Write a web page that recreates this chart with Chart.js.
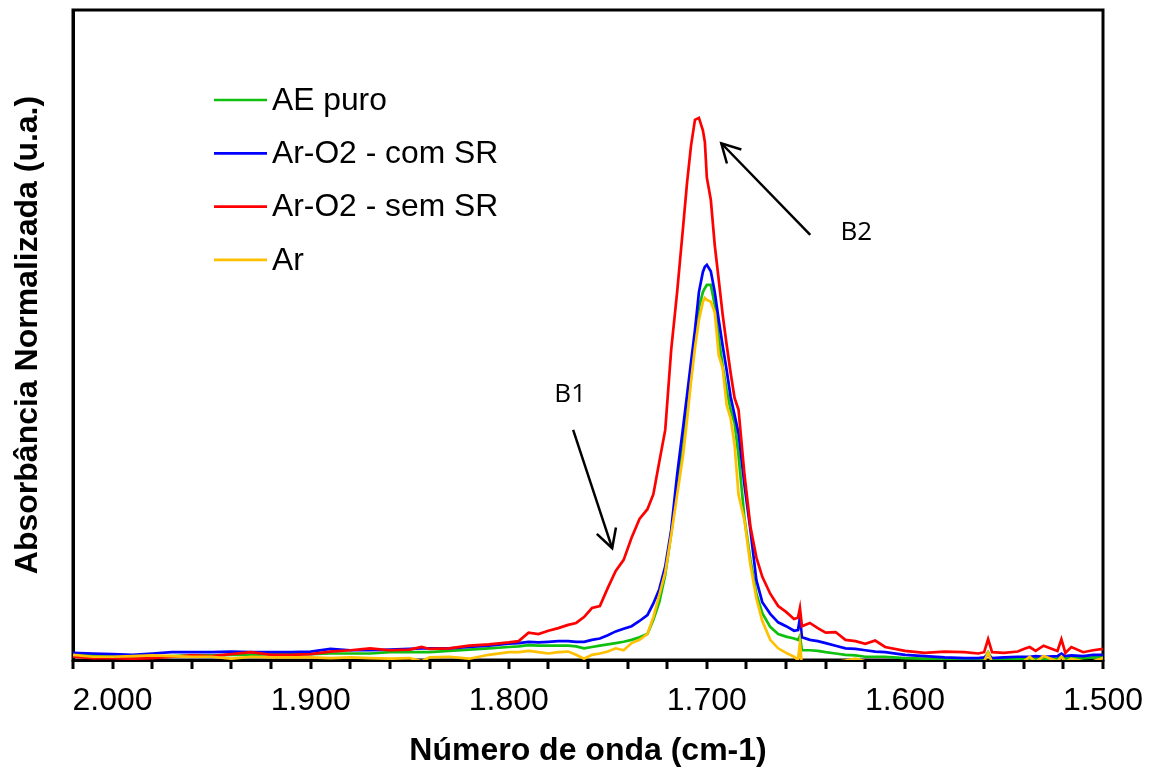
<!DOCTYPE html>
<html>
<head>
<meta charset="utf-8">
<title>Absorbância Normalizada</title>
<script src="https://cdn.jsdelivr.net/npm/chart.js@4.4.0/dist/chart.umd.min.js"></script>
<style>
  html, body { margin: 0; padding: 0; background: #ffffff; }
  #wrap { width: 1154px; height: 771px; }
  canvas { display: block; }
</style>
</head>
<body>
<div id="wrap"><canvas id="spectra" width="1154" height="771"></canvas></div>
<script>
// Número de onda (cm-1)
const wavenumbers = [
  2020, 2010, 2000, 1990, 1980, 1970, 1960, 1950, 1940, 1930,
  1920, 1910, 1900, 1890, 1880, 1870, 1860, 1850, 1844, 1840,
  1830, 1820, 1810, 1800, 1795, 1790, 1785, 1780, 1775, 1770,
  1766, 1762, 1758, 1754, 1750, 1746, 1742, 1738, 1734, 1730,
  1727, 1724, 1721, 1718, 1715, 1712, 1710, 1708, 1706, 1704,
  1702, 1701, 1700, 1698, 1696, 1694, 1692, 1690, 1688, 1686,
  1684, 1681, 1678, 1675, 1672, 1668, 1664, 1660, 1656, 1654,
  1653, 1652, 1648, 1644, 1640, 1635, 1630, 1625, 1620, 1615,
  1610, 1600, 1590, 1580, 1570, 1563, 1560, 1558, 1556, 1550,
  1543, 1540, 1537, 1534, 1530, 1523, 1521, 1519, 1516, 1510,
  1505, 1500
];

// AE puro
const aePuro = [
  0.009, 0.008, 0.007, 0.005, 0.005, 0.006, 0.007, 0.007, 0.008, 0.008,
  0.009, 0.009, 0.009, 0.010, 0.010, 0.010, 0.012, 0.012, 0.012, 0.012,
  0.014, 0.016, 0.018, 0.020, 0.021, 0.023, 0.022, 0.022, 0.022, 0.022,
  0.021, 0.018, 0.020, 0.022, 0.024, 0.026, 0.028, 0.031, 0.035, 0.040,
  0.062, 0.089, 0.131, 0.195, 0.266, 0.332, 0.386, 0.434, 0.492, 0.542,
  0.566, 0.572, 0.577, 0.577, 0.546, 0.495, 0.452, 0.415, 0.385, 0.365,
  0.315, 0.218, 0.154, 0.102, 0.072, 0.051, 0.040, 0.036, 0.033, 0.031,
  0.037, 0.015, 0.015, 0.014, 0.012, 0.010, 0.008, 0.007, 0.005, 0.005,
  0.005, 0.003, 0.002, 0.001, 0.001, 0.001, 0.002, 0.012, 0.001, 0.001,
  0.002, 0.002, 0.002, 0.002, 0.002, 0.002, 0.005, 0.002, 0.003, 0.003,
  0.004, 0.005
];

// Ar-O2 - com SR
const arO2ComSR = [
  0.011, 0.010, 0.009, 0.008, 0.010, 0.012, 0.012, 0.012, 0.013, 0.012,
  0.012, 0.012, 0.013, 0.017, 0.015, 0.015, 0.016, 0.017, 0.018, 0.018,
  0.018, 0.020, 0.022, 0.025, 0.026, 0.028, 0.027, 0.028, 0.029, 0.029,
  0.028, 0.028, 0.031, 0.033, 0.038, 0.044, 0.048, 0.052, 0.060, 0.069,
  0.087, 0.109, 0.144, 0.200, 0.285, 0.358, 0.408, 0.458, 0.508, 0.566,
  0.597, 0.605, 0.608, 0.598, 0.566, 0.523, 0.483, 0.446, 0.405, 0.377,
  0.349, 0.269, 0.200, 0.123, 0.089, 0.071, 0.058, 0.052, 0.045, 0.046,
  0.065, 0.035, 0.031, 0.029, 0.026, 0.022, 0.018, 0.017, 0.015, 0.013,
  0.012, 0.008, 0.006, 0.004, 0.003, 0.003, 0.004, 0.008, 0.003, 0.004,
  0.005, 0.005, 0.005, 0.006, 0.005, 0.006, 0.010, 0.006, 0.007, 0.006,
  0.008, 0.008
];

// Ar-O2 - sem SR
const arO2SemSR = [
  0.005, 0.003, 0.003, 0.002, 0.003, 0.005, 0.007, 0.006, 0.009, 0.012,
  0.008, 0.008, 0.009, 0.013, 0.015, 0.018, 0.015, 0.016, 0.020, 0.017,
  0.018, 0.022, 0.024, 0.027, 0.029, 0.042, 0.040, 0.045, 0.049, 0.054,
  0.057, 0.066, 0.080, 0.083, 0.111, 0.137, 0.154, 0.188, 0.217, 0.232,
  0.255, 0.305, 0.354, 0.477, 0.566, 0.666, 0.734, 0.791, 0.831, 0.834,
  0.815, 0.797, 0.742, 0.708, 0.638, 0.585, 0.531, 0.485, 0.442, 0.403,
  0.385, 0.285, 0.205, 0.158, 0.128, 0.102, 0.083, 0.074, 0.063, 0.065,
  0.080, 0.052, 0.057, 0.049, 0.042, 0.043, 0.031, 0.029, 0.025, 0.030,
  0.020, 0.014, 0.011, 0.013, 0.012, 0.010, 0.012, 0.032, 0.012, 0.011,
  0.013, 0.017, 0.020, 0.014, 0.022, 0.014, 0.032, 0.011, 0.020, 0.012,
  0.015, 0.017
];

// Ar
const ar = [
  0.008, 0.005, 0.005, 0.006, 0.007, 0.006, 0.005, 0.005, 0.002, 0.005,
  0.004, 0.004, 0.004, 0.003, 0.004, 0.003, 0.002, 0.003, -0.002, 0.004,
  0.005, 0.002, 0.008, 0.012, 0.012, 0.014, 0.012, 0.010, 0.012, 0.013,
  0.008, 0.002, 0.008, 0.010, 0.013, 0.018, 0.015, 0.026, 0.031, 0.040,
  0.066, 0.100, 0.135, 0.192, 0.254, 0.315, 0.369, 0.428, 0.480, 0.523,
  0.551, 0.557, 0.554, 0.551, 0.535, 0.469, 0.449, 0.392, 0.372, 0.331,
  0.254, 0.215, 0.146, 0.095, 0.060, 0.031, 0.018, 0.011, 0.005, 0.000,
  0.026, -0.008, -0.002, -0.003, -0.002, -0.003, -0.001, 0.002, -0.002, -0.003,
  -0.002, -0.003, -0.002, -0.003, -0.002, -0.003, -0.002, 0.011, -0.003, -0.002,
  -0.003, -0.002, 0.005, -0.003, 0.006, -0.002, 0.005, -0.003, 0.002, -0.002,
  -0.002, 0.003
];

const seriesNames = ['AE puro', 'Ar-O2 - com SR', 'Ar-O2 - sem SR', 'Ar'];
const seriesValues = [aePuro, arO2ComSR, arO2SemSR, ar];
const seriesColors = ['#10C010', '#0000FF', '#FF0000', '#FFC000'];

// labelled ticks of the wavenumber axis (minor ticks every 20 cm-1)
const labelledTicks = [2000, 1900, 1800, 1700, 1600, 1500];

// band callouts, in data coordinates
const bandCallouts = [
  { text: 'B1', label: [1769, 0.408], tail: [1767.5, 0.354], head: [1747.8, 0.172] },
  { text: 'B2', label: [1624.5, 0.657], tail: [1647.8, 0.654], head: [1692.7, 0.795] }
];

const FONT = '"Liberation Sans", Arial, Helvetica, sans-serif';

// closed frame around the plot area, with outward tick marks on the x axis
const plotFrame = {
  id: 'plotFrame',
  beforeDatasetsDraw(chart) {
    const { ctx, chartArea: a } = chart;
    const xs = chart.scales.x;
    ctx.save();
    ctx.strokeStyle = '#000';
    ctx.lineWidth = 3;
    ctx.strokeRect(a.left, a.top, a.right - a.left, a.bottom - a.top);
    xs.ticks.forEach(t => {
      const x = Math.round(xs.getPixelForValue(t.value));
      ctx.beginPath();
      ctx.moveTo(x, a.bottom);
      ctx.lineTo(x, a.bottom + 9);
      ctx.stroke();
    });
    ctx.restore();
  }
};

// legend drawn inside the plot area
const insideLegend = {
  id: 'insideLegend',
  afterDatasetsDraw(chart) {
    const { ctx, chartArea: a } = chart;
    const x0 = a.left + 141, x1 = x0 + 53, tx = x1 + 5;
    let y = a.top + 90;
    ctx.save();
    ctx.font = '31.8px ' + FONT;
    ctx.textBaseline = 'middle';
    ctx.textAlign = 'left';
    chart.data.datasets.forEach(ds => {
      ctx.strokeStyle = ds.borderColor;
      ctx.lineWidth = 2.7;
      ctx.beginPath();
      ctx.moveTo(x0, y);
      ctx.lineTo(x1, y);
      ctx.stroke();
      ctx.fillStyle = '#000';
      ctx.fillText(ds.label, tx, y + 1);
      y += 53.3;
    });
    ctx.restore();
  }
};

// arrows and labels marking the bands
const bandArrows = {
  id: 'bandArrows',
  afterDatasetsDraw(chart) {
    const { ctx } = chart;
    const xs = chart.scales.x, ys = chart.scales.y;
    const px = p => [xs.getPixelForValue(p[0]), ys.getPixelForValue(p[1])];
    ctx.save();
    ctx.strokeStyle = '#000';
    ctx.fillStyle = '#000';
    ctx.lineWidth = 2.5;
    ctx.lineCap = 'butt';
    bandCallouts.forEach(c => {
      const [tx, ty] = px(c.tail);
      const [hx, hy] = px(c.head);
      ctx.beginPath();
      ctx.moveTo(tx, ty);
      ctx.lineTo(hx, hy);
      ctx.stroke();
      const ang = Math.atan2(hy - ty, hx - tx);
      const len = 21, spread = 0.5;
      ctx.beginPath();
      ctx.moveTo(hx - len * Math.cos(ang - spread), hy - len * Math.sin(ang - spread));
      ctx.lineTo(hx, hy);
      ctx.lineTo(hx - len * Math.cos(ang + spread), hy - len * Math.sin(ang + spread));
      ctx.stroke();
      const [lx, ly] = px(c.label);
      ctx.font = '26px "Open Sans", "Liberation Sans", sans-serif';
      ctx.textAlign = 'center';
      ctx.textBaseline = 'middle';
      ctx.fillText(c.text, lx, ly);
    });
    ctx.restore();
  }
};

const datasets = seriesNames.map((name, i) => ({
  label: name,
  data: wavenumbers.map((w, j) => ({ x: w, y: seriesValues[i][j] })),
  borderColor: seriesColors[i],
  backgroundColor: seriesColors[i],
  borderWidth: 2.7,
  pointRadius: 0,
  tension: 0,
  fill: false,
  order: seriesNames.length - 1 - i
}));

new Chart(document.getElementById('spectra'), {
  type: 'line',
  data: { datasets },
  plugins: [plotFrame, insideLegend, bandArrows],
  options: {
    responsive: false,
    animation: false,
    devicePixelRatio: 1,
    layout: { padding: { left: 0, top: 10, right: 51, bottom: 0 } },
    plugins: { legend: { display: false }, tooltip: { enabled: false } },
    scales: {
      x: {
        type: 'linear',
        reverse: true,
        min: 1500,
        max: 2020,
        afterFit(scale) {
          scale.height = 111;
          scale.paddingLeft = 0;
          scale.paddingRight = 0;
        },
        border: { display: true, color: '#000', width: 3 },
        grid: { display: false, drawTicks: true, tickLength: 8 },
        ticks: {
          stepSize: 20,
          autoSkip: false,
          maxRotation: 0,
          padding: 14,
          color: '#000',
          font: { family: FONT, size: 32, lineHeight: 1.2 },
          callback: v => labelledTicks.includes(v) ? (v / 1000).toFixed(3) : ''
        },
        title: {
          display: true,
          text: 'Número de onda (cm-1)',
          color: '#000',
          padding: { top: 0, bottom: 1 },
          font: { family: FONT, size: 32, weight: 'bold', lineHeight: 1.2 }
        }
      },
      y: {
        type: 'linear',
        min: 0,
        max: 1,
        afterFit(scale) { scale.width = 73; },
        border: { display: true, color: '#000', width: 3 },
        grid: { display: false },
        ticks: { display: false },
        title: {
          display: true,
          text: 'Absorbância Normalizada (u.a.)',
          color: '#000',
          padding: { top: 9, bottom: 0 },
          font: { family: FONT, size: 32, weight: 'bold', lineHeight: 1.2 }
        }
      }
    }
  }
});
</script>
</body>
</html>
